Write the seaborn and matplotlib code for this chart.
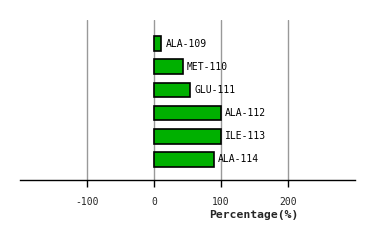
import matplotlib
matplotlib.use("Agg")
import matplotlib.pyplot as plt
import seaborn as sns
import pandas as pd

residues = ["ALA-109", "MET-110", "GLU-111", "ALA-112", "ILE-113", "ALA-114"]
percentages = [11, 43, 54, 100, 100, 89]
xticks = [-100, 0, 100, 200]

df = pd.DataFrame({"residue": residues, "pct": percentages})

sns.set_style("white")
plt.rcParams['font.family'] = ['DejaVu Sans Mono', 'DejaVu Sans']

fig = plt.figure(figsize=(3.74, 2.40), dpi=100)
ax = fig.add_axes([20/374, 60/240, 335/374, 160/240])

sns.barplot(data=df, x="pct", y="residue", orient="h", color="#00b000",
            edgecolor="black", linewidth=1.2, width=0.65, saturation=1, ax=ax, zorder=3)

for i, (r, v) in enumerate(zip(residues, percentages)):
    ax.text(v + 6, i, r, va="center", ha="left", fontsize=7, color="black", zorder=4)

ax.set_xlim(-200, 300)
ax.set_ylim(5.91, -1.04)
ax.set_xticks(xticks)
ax.set_xticklabels([str(t) for t in xticks], fontsize=7)
ax.set_yticks([])
ax.set_ylabel("")
ax.set_xlabel("Percentage(%)", fontsize=8.2, fontweight="bold")
ax.xaxis.set_label_coords((254-20)/335, -0.185)
for t in xticks:
    ax.axvline(t, color="#999999", linewidth=1, zorder=1)
for s in ["top", "right", "left"]:
    ax.spines[s].set_visible(False)
ax.spines["bottom"].set_color("black")
ax.spines["bottom"].set_linewidth(1)
ax.tick_params(axis="x", length=5, width=1, color="black", pad=7, direction="out", bottom=True)

fig.savefig("out.png", dpi=100)
